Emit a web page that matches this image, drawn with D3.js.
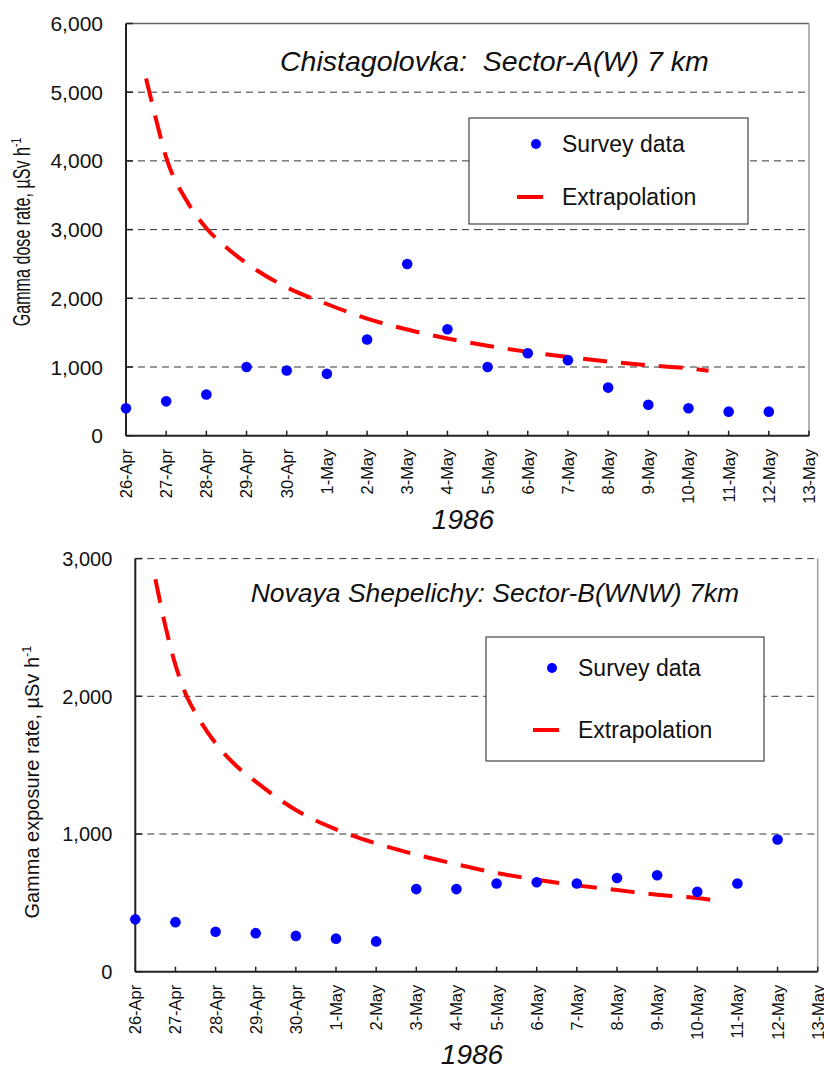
<!DOCTYPE html>
<html>
<head>
<meta charset="utf-8">
<script src="https://cdn.jsdelivr.net/npm/d3@7"></script>
<style>
  body { margin: 0; background: #fff; }
  svg { display: block; font-family: "Liberation Sans", Arial, sans-serif; }
</style>
</head>
<body>
<svg id="chart" width="824" height="1068"></svg>
<script>
//Tick labels of the date axis (26-Apr = day 0)
const dates = ["26-Apr", "27-Apr", "28-Apr", "29-Apr", "30-Apr", "1-May", "2-May", "3-May", "4-May",
  "5-May", "6-May", "7-May", "8-May", "9-May", "10-May", "11-May", "12-May", "13-May"];

//Chistagolovka survey points, one per day from 26-Apr to 12-May
const surveyA = [400, 500, 600, 1000, 950, 900, 1400, 2500, 1550, 1000, 1200, 1100, 700, 450, 400, 350, 350];
//Extrapolation curve (day, value)
const extrapDaysA = [0.5, 0.75, 1, 1.5, 2, 2.5, 3, 4, 5, 6, 7, 8, 9, 10, 11, 12, 13, 14, 14.5];
const extrapA = [5200, 4600, 4050, 3430, 3020, 2740, 2510, 2160, 1917, 1703, 1545, 1415, 1310, 1220, 1145, 1080, 1025, 980, 945];
const yTicksA = [0, 1000, 2000, 3000, 4000, 5000, 6000];

//Novaya Shepelichy survey points
const surveyB = [380, 360, 290, 280, 260, 240, 220, 600, 600, 640, 650, 640, 680, 700, 580, 640, 960];
const extrapDaysB = [0.5, 0.75, 1, 1.28, 1.5, 2, 2.5, 3, 4, 5, 6, 7, 8, 9, 10, 11, 12, 13, 14, 14.48];
const extrapB = [2850, 2510, 2228, 2000, 1878, 1659, 1499, 1380, 1174, 1034, 932, 850, 780, 717, 668, 627, 593, 559, 535, 516];
const yTicksB = [0, 1000, 2000, 3000];

const svg = d3.select("#chart");
const fmt = d3.format(",");

function drawChart(c) {
  const x = d3.scaleLinear().domain([0, dates.length - 1]).range([c.left, c.right]);
  const y = d3.scaleLinear().domain([0, c.yMax]).range([c.bottom, c.top]);
  const g = svg.append("g");

  //gridlines
  g.selectAll(".grid").data(c.yTicks.filter(d => d > 0)).join("line")
    .attr("x1", c.left).attr("x2", c.right)
    .attr("y1", d => y(d)).attr("y2", d => y(d))
    .attr("stroke", "#333").attr("stroke-width", 1).attr("stroke-dasharray", "7,5");

  //plot border (top / right)
  if (c.solidTop) {
    g.append("line").attr("x1", c.left).attr("x2", c.right).attr("y1", c.top).attr("y2", c.top)
      .attr("stroke", "#666").attr("stroke-width", 1.5);
  }
  g.append("line").attr("x1", c.right).attr("x2", c.right).attr("y1", c.top).attr("y2", c.bottom)
    .attr("stroke", "#999").attr("stroke-width", 1.5);

  //axes
  g.append("line").attr("x1", c.left).attr("x2", c.left).attr("y1", c.top).attr("y2", c.bottom)
    .attr("stroke", "#222").attr("stroke-width", 2);
  g.append("line").attr("x1", c.left).attr("x2", c.right).attr("y1", c.bottom).attr("y2", c.bottom)
    .attr("stroke", "#222").attr("stroke-width", 2);

  //inside ticks
  g.selectAll(".xt").data(dates).join("line")
    .attr("x1", (d, i) => x(i)).attr("x2", (d, i) => x(i))
    .attr("y1", c.bottom).attr("y2", c.bottom - 5)
    .attr("stroke", "#222").attr("stroke-width", 1.5);
  g.selectAll(".yt").data(c.yTicks).join("line")
    .attr("x1", c.left).attr("x2", c.left + 7)
    .attr("y1", d => y(d)).attr("y2", d => y(d))
    .attr("stroke", "#222").attr("stroke-width", 1.5);

  //y tick labels
  g.selectAll(".yl").data(c.yTicks).join("text")
    .attr("x", c.left - 23).attr("y", d => y(d)).attr("dy", "0.36em")
    .attr("text-anchor", "end").attr("font-size", c.yFont).attr("fill", "#111")
    .text(d => fmt(d));

  //x tick labels (rotated)
  g.selectAll(".xl").data(dates).join("text")
    .attr("transform", (d, i) => `translate(${x(i)},${c.bottom + 13}) rotate(-90)`)
    .attr("dy", "0.36em").attr("text-anchor", "end")
    .attr("font-size", 16.5).attr("fill", "#111")
    .text(d => d);

  //year label
  g.append("text").attr("x", c.yearX).attr("y", c.yearY).attr("text-anchor", "middle")
    .attr("font-size", 28).attr("font-style", "italic").attr("fill", "#111").text("1986");

  //y axis title
  const yt = g.append("text")
    .attr("transform", `translate(${c.ytX},${c.ytY}) rotate(-90) scale(${c.ytScale},1)`)
    .attr("text-anchor", "middle").attr("font-size", c.ytFont).attr("fill", "#111");
  yt.append("tspan").text(c.yTitle + ", \u00b5Sv h");
  yt.append("tspan").attr("font-size", c.ytFont * 0.65).attr("dy", "-0.6em").text("-1");

  //chart title
  g.append("text").attr("x", c.titleX).attr("y", c.titleY)
    .attr("font-size", c.titleFont).attr("font-style", "italic").attr("fill", "#111")
    .style("white-space", "pre").text(c.title);

  //extrapolation curve
  const line = d3.line().x(d => x(d[0])).y(d => y(d[1])).curve(d3.curveMonotoneX);
  g.append("path").datum(d3.zip(c.extrapDays, c.extrap))
    .attr("d", line).attr("fill", "none").attr("stroke", "#ff0000")
    .attr("stroke-width", 4).attr("stroke-dasharray", "24,14");

  //survey dots
  g.selectAll(".dot").data(c.survey).join("circle")
    .attr("cx", (d, i) => x(i)).attr("cy", d => y(d)).attr("r", 5.3)
    .attr("fill", "#0000ff");

  //legend
  const L = c.legend;
  g.append("rect").attr("x", L.x).attr("y", L.y).attr("width", L.w).attr("height", L.h)
    .attr("fill", "#fff").attr("stroke", "#444").attr("stroke-width", 1.2);
  g.append("circle").attr("cx", L.x + L.dotDx).attr("cy", L.y + L.row1).attr("r", 5).attr("fill", "#0000ff");
  g.append("text").attr("x", L.x + L.textDx).attr("y", L.y + L.row1).attr("dy", "0.36em")
    .attr("font-size", 23).attr("fill", "#111").text("Survey data");
  g.append("line").attr("x1", L.x + L.dotDx - 19).attr("x2", L.x + L.dotDx + 7)
    .attr("y1", L.y + L.row2).attr("y2", L.y + L.row2)
    .attr("stroke", "#ff0000").attr("stroke-width", 4);
  g.append("text").attr("x", L.x + L.textDx).attr("y", L.y + L.row2).attr("dy", "0.36em")
    .attr("font-size", 23).attr("fill", "#111").text("Extrapolation");
}

drawChart({
  left: 126, right: 809, top: 23.5, bottom: 435.7, yMax: 6000, yTicks: yTicksA, yFont: 21,
  survey: surveyA, extrapDays: extrapDaysA, extrap: extrapA, solidTop: true,
  title: "Chistagolovka:  Sector-A(W) 7 km", titleX: 280, titleY: 71, titleFont: 28.5,
  yTitle: "Gamma dose rate", ytX: 30, ytY: 232, ytScale: 0.7, ytFont: 23,
  yearX: 463, yearY: 529,
  legend: { x: 469, y: 118, w: 279, h: 106, dotDx: 67, textDx: 93, row1: 26, row2: 79 }
});

drawChart({
  left: 135.3, right: 817.7, top: 558.6, bottom: 971.7, yMax: 3000, yTicks: yTicksB, yFont: 20,
  survey: surveyB, extrapDays: extrapDaysB, extrap: extrapB, solidTop: false,
  title: "Novaya Shepelichy: Sector-B(WNW) 7km", titleX: 250.7, titleY: 602, titleFont: 26.5,
  yTitle: "Gamma exposure rate", ytX: 39, ytY: 782, ytScale: 1, ytFont: 20,
  yearX: 472, yearY: 1064,
  legend: { x: 486, y: 637, w: 278, h: 124, dotDx: 66, textDx: 92, row1: 31, row2: 93 }
});
</script>
</body>
</html>
